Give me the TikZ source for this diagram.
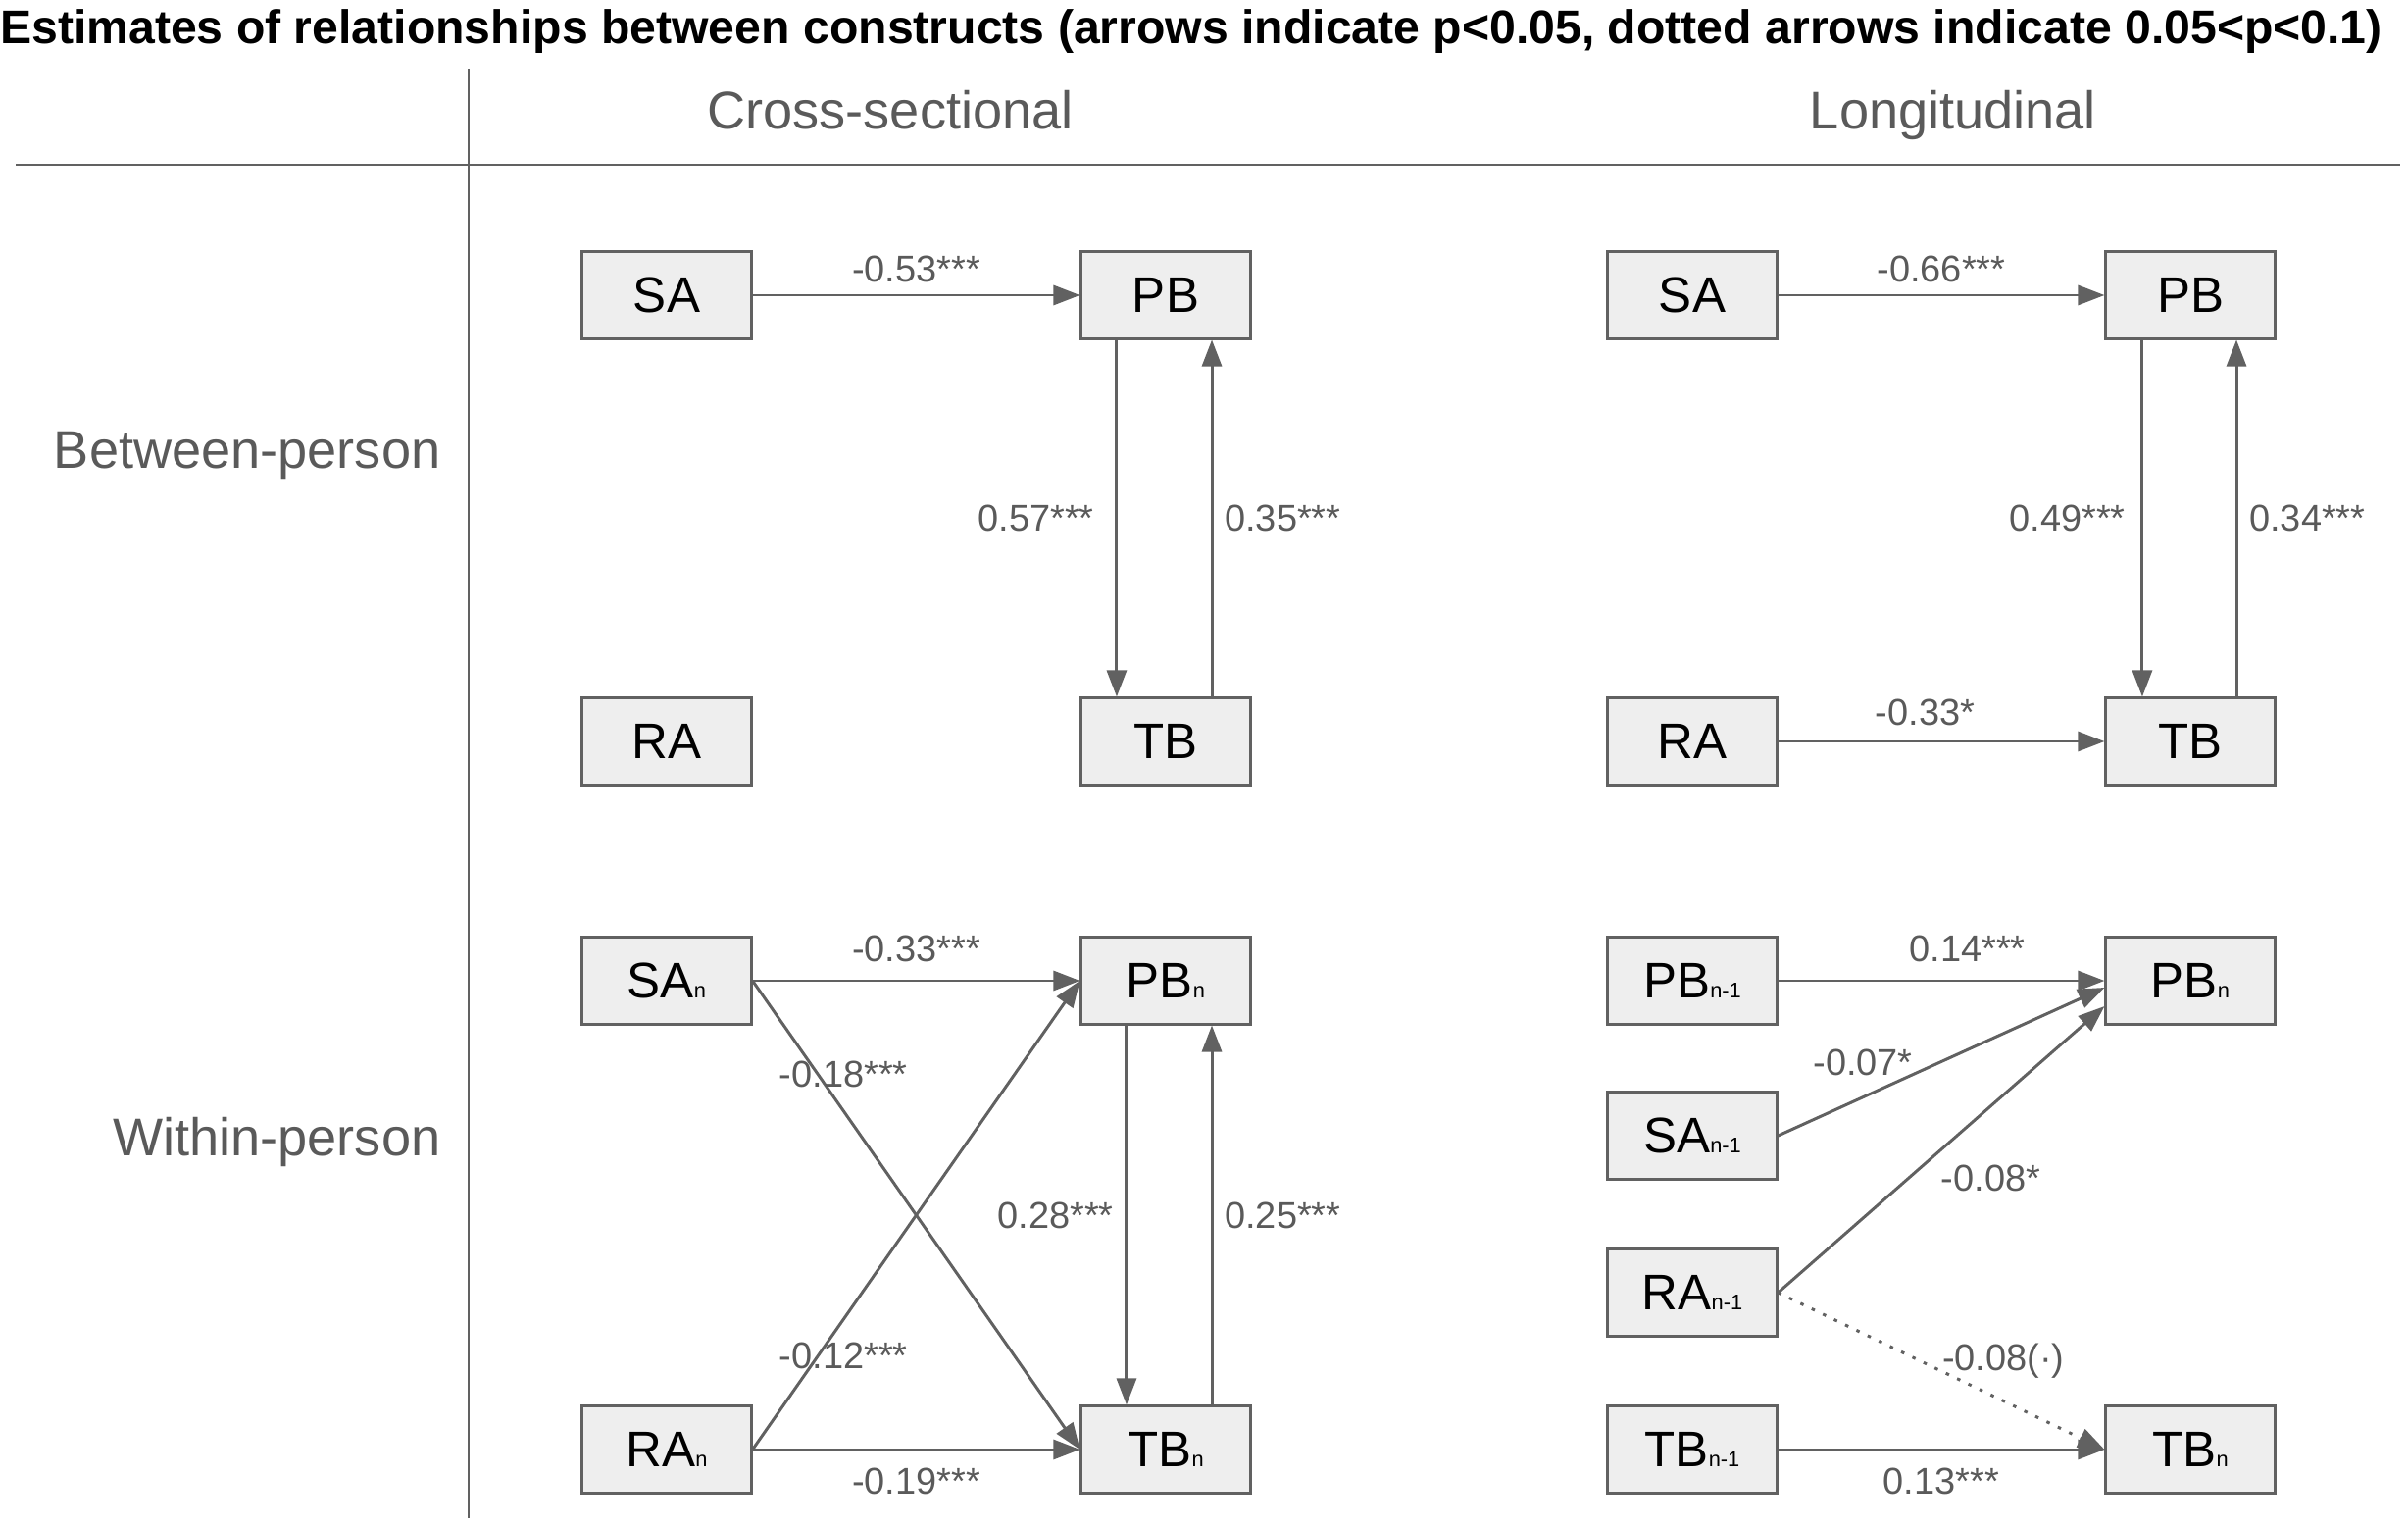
\documentclass[tikz,border=0pt]{standalone}
\usepackage{fontspec}
\setmainfont{Liberation Sans}
\usetikzlibrary{arrows.meta}
\definecolor{linegray}{HTML}{616161}
\definecolor{boxfill}{HTML}{EEEEEE}
\definecolor{txtgray}{HTML}{5A5A5A}
\newcommand{\idx}[1]{{\fontsize{6.2}{7}\selectfont #1}}

\begin{document}
\begin{tikzpicture}[x=0.01cm,y=0.01cm,
  box/.style={draw=linegray,fill=boxfill,line width=0.85pt,minimum width=1.72cm,minimum height=0.88cm,inner sep=0pt,font=\fontsize{14.5}{17}\selectfont},
  lbl/.style={text=txtgray,font=\fontsize{10.8}{13}\selectfont},
  head/.style={text=txtgray,inner sep=0pt,font=\fontsize{15.4}{18}\selectfont},
  arr/.style={-{Triangle[length=0.27cm,width=0.2cm]},draw=linegray,line width=0.85pt},
  divider/.style={draw=linegray,line width=0.85pt}]
\useasboundingbox (0,0) rectangle (2456,1556);
\node[font=\bfseries\fontsize{13.7}{16}\selectfont,anchor=base] (title) at (1215,1511) {Estimates of relationships between constructs (arrows indicate p<0.05, dotted arrows indicate 0.05<p<0.1)};
\draw[divider] (16,1388) -- (2448,1388);
\draw[divider] (478,1486) -- (478,8);
\node[head,anchor=base] (cross) at (908,1424) {Cross-sectional};
\node[head,anchor=base] (long) at (1992,1424) {Longitudinal};
\node[head,anchor=base east] (between) at (450,1078) {Between-person};
\node[head,anchor=base east] (within) at (450,378) {Within-person};

\node[box] (csSA) at (680,1255) {SA};
\node[box] (csPB) at (1189,1255) {PB};
\node[box] (csRA) at (680,800) {RA};
\node[box] (csTB) at (1189,800) {TB};
\draw[arr] (csSA) -- node[lbl,above] {-0.53***} (csPB);
\draw[arr] ([xshift=-0.5cm]csPB.south) -- node[lbl,left=0.1cm] {0.57***} ([xshift=-0.5cm]csTB.north);
\draw[arr] ([xshift=0.47cm]csTB.north) -- node[lbl,right] {0.35***} ([xshift=0.47cm]csPB.south);

\node[box] (lgSA) at (1726,1255) {SA};
\node[box] (lgPB) at (2234,1255) {PB};
\node[box] (lgRA) at (1726,800) {RA};
\node[box] (lgTB) at (2234,800) {TB};
\draw[arr] (lgSA) -- node[lbl,above] {-0.66***} (lgPB);
\draw[arr] (lgRA) -- node[lbl,above=0.03cm,pos=0.45] {-0.33*} (lgTB);
\draw[arr] ([xshift=-0.49cm]lgPB.south) -- node[lbl,left=0.04cm] {0.49***} ([xshift=-0.49cm]lgTB.north);
\draw[arr] ([xshift=0.47cm]lgTB.north) -- node[lbl,right] {0.34***} ([xshift=0.47cm]lgPB.south);

\node[box] (wcSA) at (680,556) {SA\idx{n}};
\node[box] (wcPB) at (1189,556) {PB\idx{n}};
\node[box] (wcRA) at (680,78) {RA\idx{n}};
\node[box] (wcTB) at (1189,78) {TB\idx{n}};
\draw[arr] (wcSA) -- node[lbl,above=0.06cm] {-0.33***} (wcPB);
\draw[arr] (wcRA) -- node[lbl,below=0.06cm] {-0.19***} (wcTB);
\draw[arr] (wcSA.east) -- node[lbl,pos=0.2,xshift=0.26cm] {-0.18***} (wcTB.west);
\draw[arr] (wcRA.east) -- node[lbl,pos=0.2,xshift=0.26cm] {-0.12***} (wcPB.west);
\draw[arr] ([xshift=-0.4cm]wcPB.south) -- node[lbl,left] {0.28***} ([xshift=-0.4cm]wcTB.north);
\draw[arr] ([xshift=0.47cm]wcTB.north) -- node[lbl,right] {0.25***} ([xshift=0.47cm]wcPB.south);

\node[box] (wlPB1) at (1726,556) {PB\idx{n-1}};
\node[box] (wlSA1) at (1726,398) {SA\idx{n-1}};
\node[box] (wlRA1) at (1726,238) {RA\idx{n-1}};
\node[box] (wlTB1) at (1726,78) {TB\idx{n-1}};
\node[box] (wlPB) at (2234,556) {PB\idx{n}};
\node[box] (wlTB) at (2234,78) {TB\idx{n}};
\draw[arr] (wlPB1) -- node[lbl,above=0.06cm,pos=0.58] {0.14***} (wlPB);
\draw[arr] (wlSA1.east) -- node[lbl,above=0.09cm,pos=0.26] {-0.07*} ([yshift=-0.07cm]wlPB.west);
\draw[arr] (wlRA1.east) -- node[lbl,right=0.2cm,pos=0.4] {-0.08*} ([yshift=-0.26cm]wlPB.west);
\draw[arr,dash pattern=on 1pt off 2.6pt] (wlRA1.east) -- node[lbl,above=0.1cm,pos=0.69] {-0.08(·)} (wlTB.west);
\draw[arr] (wlTB1) -- node[lbl,below=0.06cm] {0.13***} (wlTB);
\end{tikzpicture}
\end{document}
